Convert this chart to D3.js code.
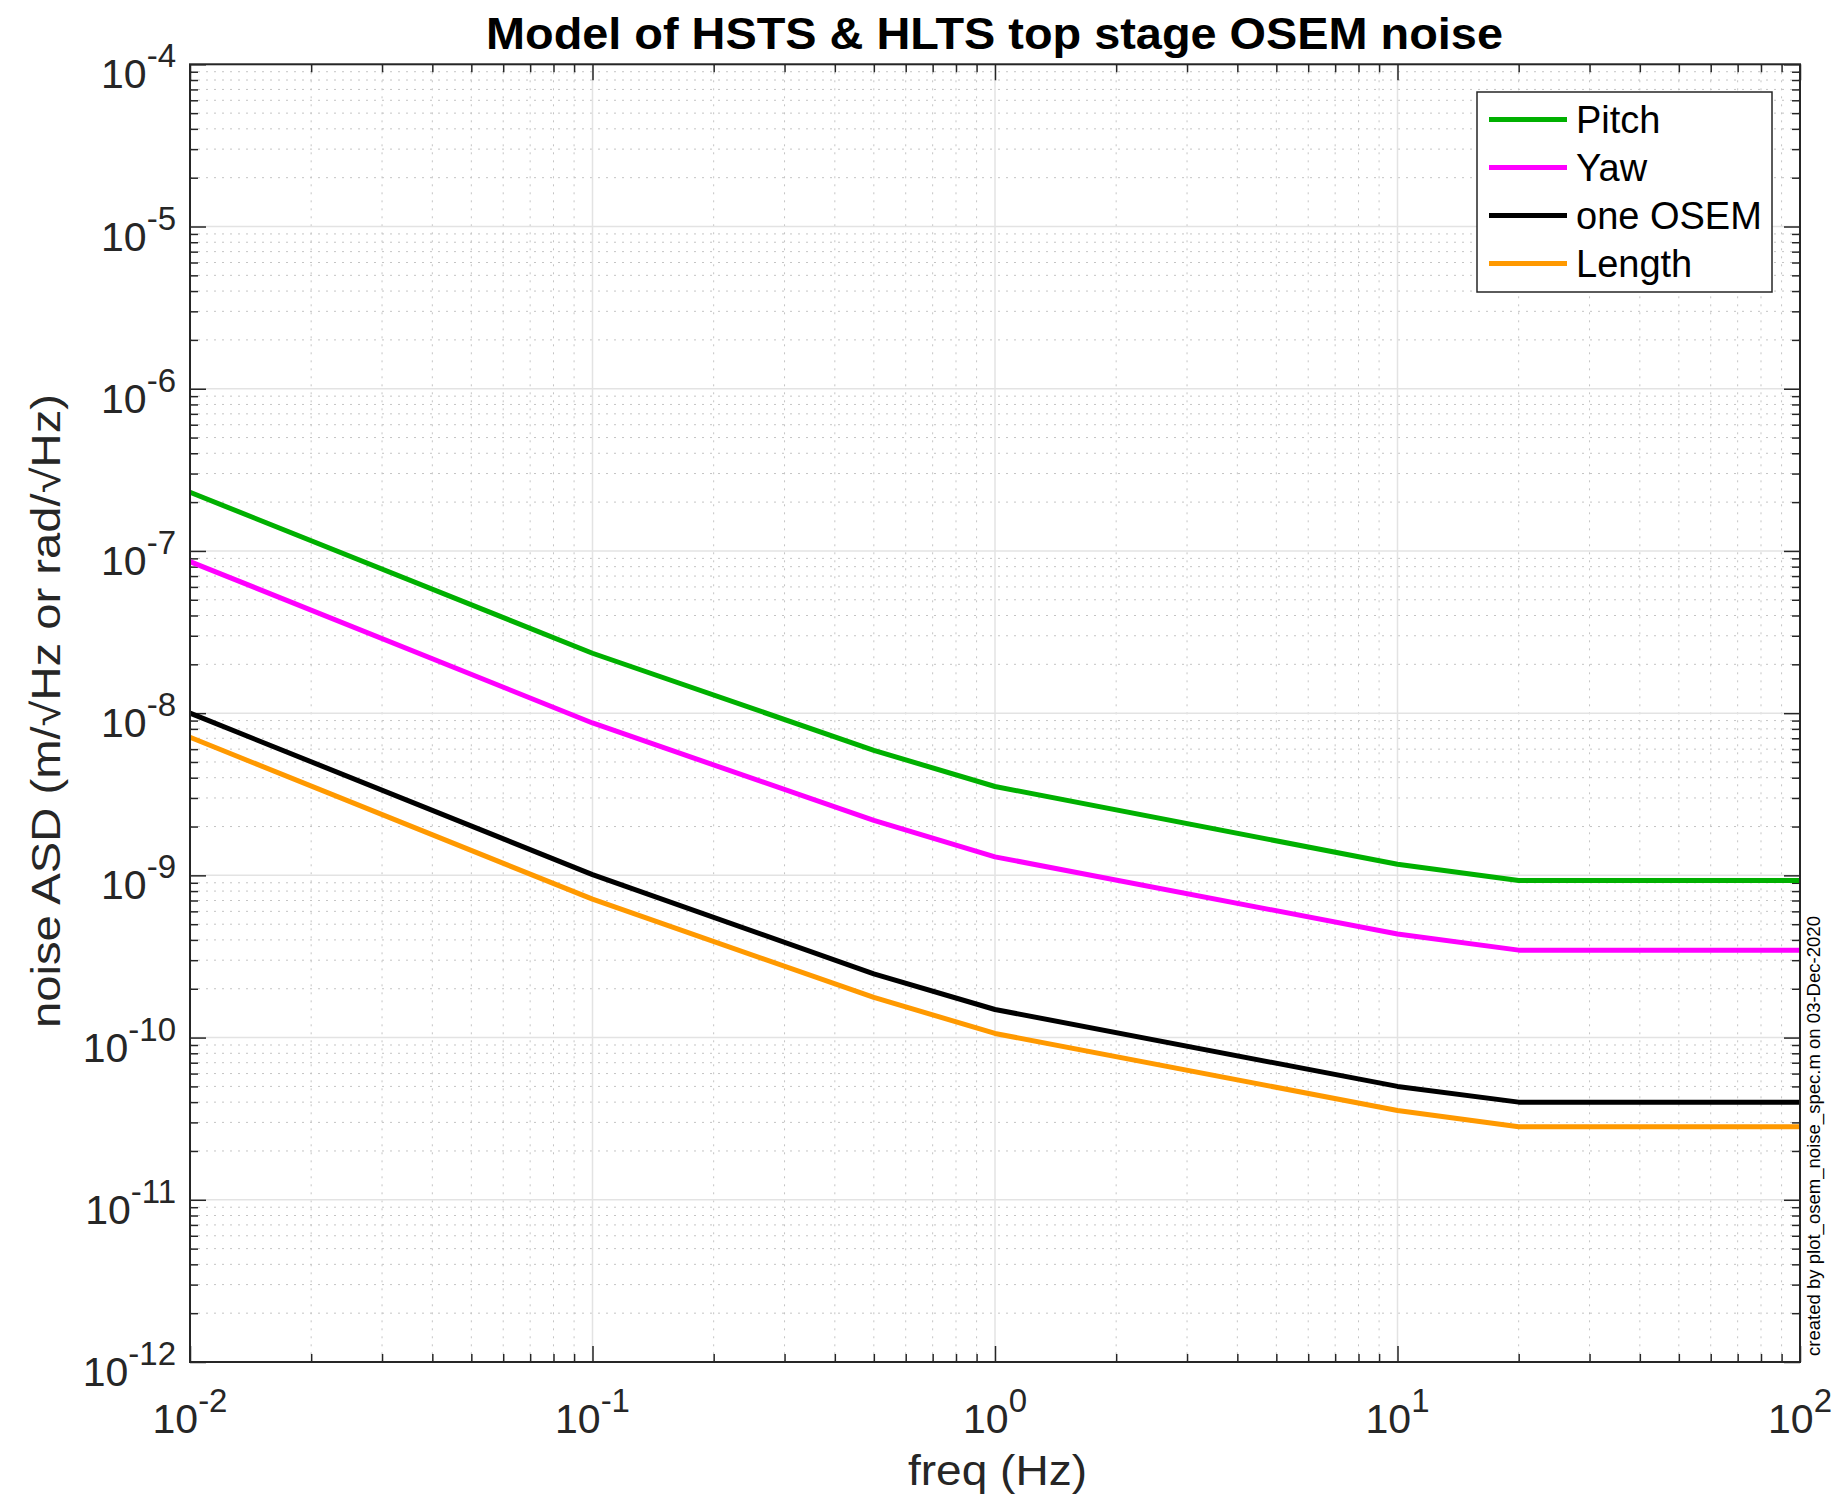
<!DOCTYPE html>
<html>
<head>
<meta charset="utf-8">
<title>OSEM noise</title>
<script src="https://d3js.org/d3.v7.min.js"></script>
<style>
  body { margin: 0; background: #fff; }
  text { font-family: "Liberation Sans", Helvetica, Arial, sans-serif; }
</style>
</head>
<body>
<div id="chart"></div>
<script>
// data
var freq   = [0.01, 0.1, 0.5, 1, 10, 20, 100];
var pitch  = [2.3e-7, 2.34e-8, 5.9e-9, 3.53e-9, 1.17e-9, 9.3e-10, 9.3e-10];
var yaw    = [8.6e-8, 8.7e-9, 2.18e-9, 1.3e-9, 4.35e-10, 3.46e-10, 3.46e-10];
var osem   = [1.0e-8, 1.01e-9, 2.47e-10, 1.49e-10, 5.0e-11, 4.0e-11, 4.0e-11];
var length = [7.1e-9, 7.13e-10, 1.77e-10, 1.06e-10, 3.55e-11, 2.82e-11, 2.82e-11];

var seriesNames  = ["Pitch", "Yaw", "one OSEM", "Length"];
var seriesValues = [pitch, yaw, osem, length];
var seriesColors = ["#00b000", "#ff00ff", "#000000", "#ff9900"];

var xExp = [-2, -1, 0, 1, 2];
var yExp = [-12, -11, -10, -9, -8, -7, -6, -5, -4];

var W = 1843, H = 1500;
var margin = {left: 190, right: 43, top: 64.3, bottom: 138};
var x0 = margin.left, x1 = W - margin.right, y0 = margin.top, y1 = H - margin.bottom;

var svg = d3.select("#chart").append("svg")
    .attr("width", W).attr("height", H);
svg.append("rect").attr("width", W).attr("height", H).attr("fill", "#fff");

var x = d3.scaleLog().domain([1e-2, 1e2]).range([x0, x1]);
var y = d3.scaleLog().domain([1e-12, 1e-4]).range([y1, y0]);

// major and minor tick values
var xMajor = xExp.map(function(e) { return Math.pow(10, e); });
var yMajor = yExp.map(function(e) { return Math.pow(10, e); });
function minors(exps) {
    var out = [];
    for (var i = 0; i < exps.length - 1; i++)
        for (var k = 2; k <= 9; k++) out.push(k * Math.pow(10, exps[i]));
    return out;
}
var xMinor = minors(xExp), yMinor = minors(yExp);

// grid
var grid = svg.append("g");
grid.selectAll(".xminor").data(xMinor).enter().append("line")
    .attr("x1", d => x(d)).attr("x2", d => x(d)).attr("y1", y0).attr("y2", y1)
    .attr("stroke", "#c4c4c4").attr("stroke-width", 1).attr("stroke-dasharray", "2,6");
grid.selectAll(".yminor").data(yMinor).enter().append("line")
    .attr("y1", d => y(d)).attr("y2", d => y(d)).attr("x1", x0).attr("x2", x1)
    .attr("stroke", "#c4c4c4").attr("stroke-width", 1).attr("stroke-dasharray", "2,6");
grid.selectAll(".xmajor").data(xMajor).enter().append("line")
    .attr("x1", d => x(d)).attr("x2", d => x(d)).attr("y1", y0).attr("y2", y1)
    .attr("stroke", "#e3e3e3").attr("stroke-width", 1.5);
grid.selectAll(".ymajor").data(yMajor).enter().append("line")
    .attr("y1", d => y(d)).attr("y2", d => y(d)).attr("x1", x0).attr("x2", x1)
    .attr("stroke", "#e3e3e3").attr("stroke-width", 1.5);

// inward ticks on all four sides
function tickAxis(axisFn, scale, vals, len, transform) {
    var g = svg.append("g").attr("transform", transform)
        .call(axisFn(scale).tickValues(vals).tickSize(len).tickFormat(""));
    g.select(".domain").remove();
    g.selectAll(".tick line").attr("stroke", "#262626").attr("stroke-width", 1.5);
}
tickAxis(d3.axisBottom, x, xMajor, -16, "translate(0," + y1 + ")");
tickAxis(d3.axisBottom, x, xMinor, -8, "translate(0," + y1 + ")");
tickAxis(d3.axisTop, x, xMajor, -16, "translate(0," + y0 + ")");
tickAxis(d3.axisTop, x, xMinor, -8, "translate(0," + y0 + ")");
tickAxis(d3.axisLeft, y, yMajor, -16, "translate(" + x0 + ",0)");
tickAxis(d3.axisLeft, y, yMinor, -8, "translate(" + x0 + ",0)");
tickAxis(d3.axisRight, y, yMajor, -16, "translate(" + x1 + ",0)");
tickAxis(d3.axisRight, y, yMinor, -8, "translate(" + x1 + ",0)");

// data lines
var line = d3.line().x(function(d, i) { return x(freq[i]); }).y(function(d) { return y(d); });
seriesValues.forEach(function(vals, i) {
    svg.append("path").datum(vals)
        .attr("d", line)
        .attr("fill", "none")
        .attr("stroke", seriesColors[i])
        .attr("stroke-width", 5)
        .attr("stroke-linejoin", "round");
});

// axes box
svg.append("rect").attr("x", x0).attr("y", y0).attr("width", x1 - x0).attr("height", y1 - y0)
    .attr("fill", "none").attr("stroke", "#262626").attr("stroke-width", 2);

// tick labels 10^n
function powLabel(sel, e) {
    sel.append("tspan").text("10");
    sel.append("tspan").attr("font-size", 33).attr("dy", -21).text(e);
}
xExp.forEach(function(e) {
    var t = svg.append("text").attr("x", x(Math.pow(10, e))).attr("y", y1 + 71)
        .attr("text-anchor", "middle").attr("font-size", 41).attr("fill", "#262626");
    powLabel(t, e);
});
yExp.forEach(function(e) {
    var t = svg.append("text").attr("x", 176).attr("y", y(Math.pow(10, e)) + 24)
        .attr("text-anchor", "end").attr("font-size", 41).attr("fill", "#262626");
    powLabel(t, e);
});

// axis labels and title
svg.append("text").attr("x", 997.5).attr("y", 1485).attr("text-anchor", "middle")
    .attr("font-size", 42).attr("fill", "#262626")
    .attr("textLength", 179).attr("lengthAdjust", "spacingAndGlyphs")
    .text("freq (Hz)");

svg.append("text").attr("transform", "translate(60,711) rotate(-90)")
    .attr("text-anchor", "middle").attr("font-size", 40).attr("fill", "#262626")
    .attr("textLength", 634).attr("lengthAdjust", "spacingAndGlyphs")
    .text("noise ASD (m/\u221AHz or rad/\u221AHz)");

svg.append("text").attr("x", 486).attr("y", 49)
    .attr("font-size", 45).attr("font-weight", "bold").attr("fill", "#000")
    .attr("textLength", 1017).attr("lengthAdjust", "spacingAndGlyphs")
    .text("Model of HSTS & HLTS top stage OSEM noise");

svg.append("text").attr("transform", "translate(1820,1356) rotate(-90)")
    .attr("font-size", 18).attr("fill", "#000")
    .attr("textLength", 440).attr("lengthAdjust", "spacingAndGlyphs")
    .text("created by plot_osem_noise_spec.m on 03-Dec-2020");

// legend
var leg = svg.append("g");
leg.append("rect").attr("x", 1477).attr("y", 92).attr("width", 295).attr("height", 200)
    .attr("fill", "#fff").attr("stroke", "#262626").attr("stroke-width", 1.5);
seriesNames.forEach(function(name, i) {
    var ly = 119.5 + i * 48;
    leg.append("line").attr("x1", 1489).attr("x2", 1567).attr("y1", ly).attr("y2", ly)
        .attr("stroke", seriesColors[i]).attr("stroke-width", 5);
    leg.append("text").attr("x", 1576).attr("y", ly + 13.5)
        .attr("font-size", 38).attr("fill", "#000").text(name);
});
</script>
</body>
</html>
